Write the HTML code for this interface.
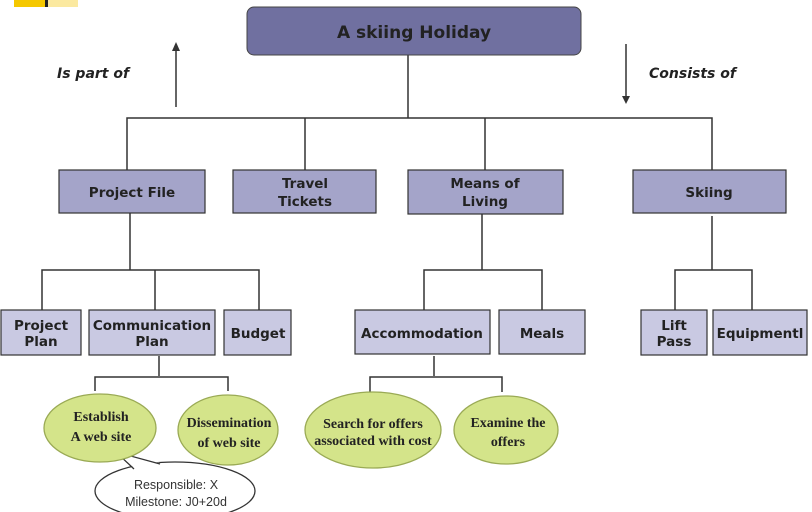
<!DOCTYPE html>
<html><head><meta charset="utf-8"><style>
html,body{margin:0;padding:0;background:#fff;width:812px;height:512px;overflow:hidden}
svg text{font-family:"DejaVu Sans","Liberation Sans",sans-serif;font-weight:bold;fill:#222}
.e text{font-family:"Liberation Serif",serif;font-weight:bold;fill:#222}
.e text.n{font-family:"Liberation Sans",sans-serif;font-weight:normal;fill:#333}
</style></head><body>
<svg width="812" height="512" viewBox="0 0 812 512" xmlns="http://www.w3.org/2000/svg">
<rect x="14" y="0" width="31" height="7" fill="#f5c800"/>
<rect x="45" y="0" width="3" height="7" fill="#222"/>
<rect x="48" y="0" width="30" height="7" fill="#fbe9a0"/>
<g stroke="#333" stroke-width="1.5" fill="none">
<line x1="176" y1="47" x2="176" y2="107"/>
<line x1="626" y1="44" x2="626" y2="100"/>
<line x1="408" y1="55" x2="408" y2="118"/>
<polyline points="127,170 127,118 712,118 712,170"/>
<line x1="305" y1="118" x2="305" y2="170"/>
<line x1="485" y1="118" x2="485" y2="170"/>
<line x1="130" y1="213" x2="130" y2="270"/>
<polyline points="42,310 42,270 259,270 259,310"/>
<line x1="155" y1="270" x2="155" y2="310"/>
<line x1="482" y1="214" x2="482" y2="270"/>
<polyline points="424,310 424,270 542,270 542,310"/>
<line x1="712" y1="216" x2="712" y2="270"/>
<polyline points="675,310 675,270 752,270 752,310"/>
<line x1="159" y1="356" x2="159" y2="376"/>
<polyline points="95,391 95,377 228,377 228,391"/>
<line x1="434" y1="356" x2="434" y2="376"/>
<polyline points="370,392 370,377 502,377 502,392"/>
</g>
<polygon points="176,42 172,51 180,51" fill="#333"/>
<polygon points="626,104 622,96 630,96" fill="#333"/>
<text x="57" y="78" font-size="14" font-style="italic">Is part of</text>
<text x="649" y="78" font-size="14" font-style="italic">Consists of</text>
<rect x="247" y="7" width="334" height="48" rx="7" fill="#7070a0" stroke="#444" stroke-width="1"/>
<text x="414" y="38" font-size="17" text-anchor="middle">A skiing Holiday</text>
<g fill="#a4a4c9" stroke="#333" stroke-width="1.2">
<rect x="59" y="170" width="146" height="43"/>
<rect x="233" y="170" width="143" height="43"/>
<rect x="408" y="170" width="155" height="44"/>
<rect x="633" y="170" width="153" height="43"/>
</g>
<g fill="#c9c9e2" stroke="#333" stroke-width="1.2">
<rect x="1" y="310" width="80" height="45"/>
<rect x="89" y="310" width="126" height="45"/>
<rect x="224" y="310" width="67" height="45"/>
<rect x="355" y="310" width="135" height="44"/>
<rect x="499" y="310" width="86" height="44"/>
<rect x="641" y="310" width="66" height="45"/>
<rect x="713" y="310" width="94" height="45"/>
</g>
<g font-size="13.5" text-anchor="middle">
<text x="132" y="197">Project File</text>
<text x="305" y="188">Travel</text><text x="305" y="206">Tickets</text>
<text x="485" y="188">Means of</text><text x="485" y="206">Living</text>
<text x="709" y="197">Skiing</text>
<text x="41" y="330">Project</text><text x="41" y="346">Plan</text>
<text x="152" y="330">Communication</text><text x="152" y="346">Plan</text>
<text x="258" y="338">Budget</text>
<text x="422" y="338">Accommodation</text>
<text x="542" y="338">Meals</text>
<text x="674" y="330">Lift</text><text x="674" y="346">Pass</text>
<text x="760" y="338">Equipmentl</text>
</g>
<g class="e">
<ellipse cx="175" cy="491" rx="80" ry="29" fill="#fff" stroke="#333" stroke-width="1.3"/>
<polygon points="134,468 116,452 160,463" fill="#fff" stroke="none"/>
<polyline points="134,469 116,452 160,464" fill="none" stroke="#333" stroke-width="1.3"/>
<g fill="#d4e48a" stroke="#9aaa55" stroke-width="1.3">
<ellipse cx="100" cy="428" rx="56" ry="34"/>
<ellipse cx="228" cy="430" rx="50" ry="35"/>
<ellipse cx="373" cy="430" rx="68" ry="38"/>
<ellipse cx="506" cy="430" rx="52" ry="34"/>
</g>
<g font-size="14" text-anchor="middle">
<text x="101" y="421">Establish</text><text x="101" y="441">A web site</text>
<text x="229" y="427">Dissemination</text><text x="229" y="447">of web site</text>
<text x="373" y="428">Search for offers</text><text x="373" y="445">associated with cost</text>
<text x="508" y="427">Examine the</text><text x="508" y="446">offers</text>
<text class="n" x="176" y="489" font-size="12.5">Responsible: X</text>
<text class="n" x="176" y="506" font-size="12.5">Milestone: J0+20d</text>
</g>
</g>
</svg>
</body></html>
